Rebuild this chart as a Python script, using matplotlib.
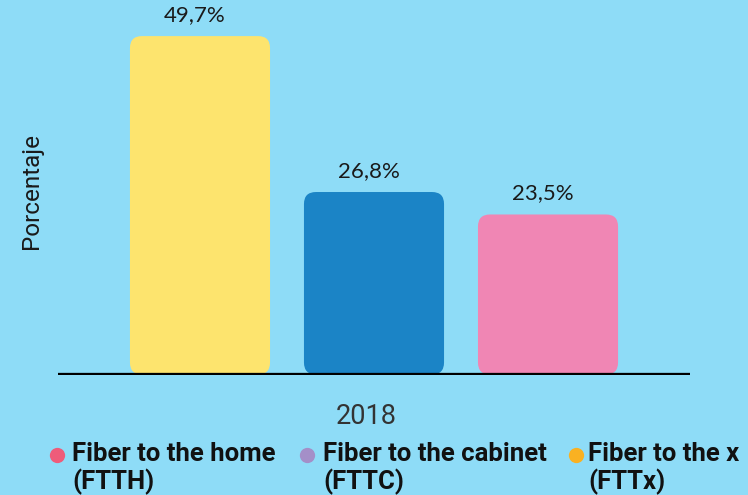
import matplotlib
matplotlib.use("Agg")
import matplotlib.pyplot as plt
from matplotlib.patches import FancyBboxPatch
from matplotlib.lines import Line2D

# data
categories = ["FTTx", "FTTC", "FTTH"]
values = [49.7, 26.8, 23.5]
value_labels = ["49,7%", "26,8%", "23,5%"]
bar_colors = ["#FDE46E", "#1B84C6", "#F086B4"]
year = "2018"
legend_labels = ["Fiber to the home\n(FTTH)", "Fiber to the cabinet\n(FTTC)", "Fiber to the x\n(FTTx)"]
legend_colors = ["#EE5C7A", "#A48FC8", "#F9B122"]

bg = "#8EDCF7"
W, H = 748, 495

fig = plt.figure(figsize=(W / 100, H / 100), dpi=100, facecolor=bg)
ax = fig.add_axes([58 / W, 120.5 / H, 632 / W, 374.5 / H])
ax.set_facecolor(bg)

x = list(range(len(values)))
bars = ax.bar(x, values, width=0.805, color=bar_colors)
ax.set_xlim(-0.816, 2.816)
ax.set_ylim(0, 55.0)

# px per data unit, to keep the corner radius round
xpx = 632 / 3.632
ypx = 374.5 / 55.0
r = 12 / xpx
for b, c in zip(bars, bar_colors):
    b.set_visible(False)
    p = FancyBboxPatch((b.get_x(), b.get_y()), b.get_width(), b.get_height(),
                       boxstyle="round,pad=0,rounding_size=%f" % r,
                       mutation_aspect=xpx / ypx, fc=c, ec="none", zorder=2)
    ax.add_patch(p)

for xi, v, lab in zip(x, values, value_labels):
    ax.annotate(lab, (xi, v), xytext=(-4, 8), textcoords="offset points",
                ha="center", va="bottom", fontsize=16, family="Lato",
                color="#1a1a1a")

ax.axhline(0, color="black", lw=3.8, zorder=3)
for s in ax.spines.values():
    s.set_visible(False)
ax.set_xticks([])
ax.set_yticks([])

fig.text(32 / W, 1 - 191 / H, "Porcentaje", rotation=90, ha="center", va="center",
         fontsize=17.5, family="Roboto", color="#1a1a1a")
fig.text(366 / W, 1 - 416 / H, year, ha="center", va="center",
         fontsize=19.5, family="Roboto", color="#333333")

# legend
dot_x = [57, 307, 576]
txt_x = [72, 323, 588]
for dx, tx, lab, c in zip(dot_x, txt_x, legend_labels, legend_colors):
    fig.add_artist(Line2D([dx / W], [1 - 455 / H], marker="o", ms=11, color=c,
                          mec="none", transform=fig.transFigure))
    fig.text(tx / W, 1 - 442 / H, lab, ha="left", va="top", fontsize=18.5,
             family="Roboto", weight="bold", color="#111111", linespacing=1.12)

fig.savefig("out.png", dpi=100, facecolor=bg)
